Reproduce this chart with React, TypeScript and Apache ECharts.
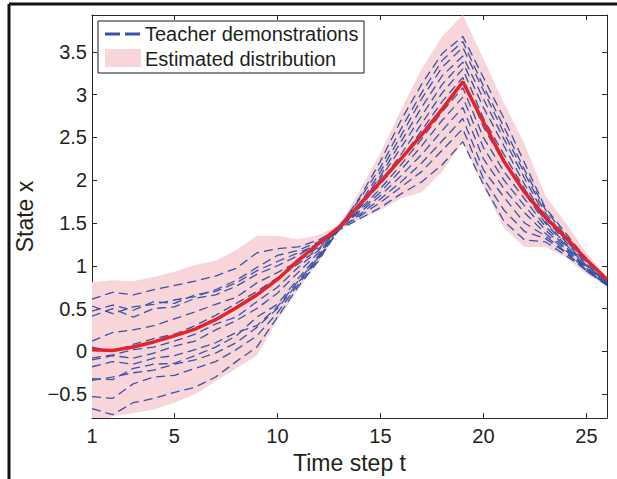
import React, { useEffect, useRef } from "react";
import * as echarts from "echarts";

const timeSteps = [1, 2, 3, 4, 5, 6, 7, 8, 9, 10, 11, 12, 13, 14, 15, 16, 17, 18, 19, 20, 21, 22, 23, 24, 25, 26];

const meanState = [0.02, 0.01, 0.05, 0.11, 0.18, 0.26, 0.37, 0.51, 0.66, 0.84, 1.06, 1.26, 1.45, 1.72, 1.98, 2.25, 2.53, 2.83, 3.15, 2.68, 2.22, 1.86, 1.57, 1.33, 1.07, 0.84];
const upperBound = [0.81, 0.83, 0.82, 0.87, 0.93, 1.01, 1.06, 1.18, 1.35, 1.35, 1.31, 1.36, 1.48, 1.88, 2.32, 2.82, 3.30, 3.68, 3.93, 3.42, 2.90, 2.42, 1.82, 1.50, 1.15, 0.87];
const lowerBound = [-0.85, -0.76, -0.72, -0.68, -0.60, -0.50, -0.35, -0.20, -0.05, 0.36, 0.72, 1.04, 1.42, 1.54, 1.65, 1.79, 1.86, 2.10, 2.44, 1.93, 1.44, 1.22, 1.22, 1.10, 0.90, 0.76];

const demo01 = [0.61, 0.69, 0.66, 0.72, 0.77, 0.82, 0.88, 0.97, 1.15, 1.20, 1.22, 1.30, 1.44, 1.80, 2.22, 2.70, 3.12, 3.48, 3.68, 3.20, 2.72, 2.20, 1.68, 1.38, 1.08, 0.85];
const demo02 = [0.53, 0.44, 0.52, 0.55, 0.60, 0.64, 0.72, 0.83, 0.98, 1.12, 1.18, 1.28, 1.46, 1.78, 2.15, 2.60, 3.02, 3.40, 3.62, 3.10, 2.62, 2.12, 1.66, 1.35, 1.06, 0.84];
const demo03 = [0.47, 0.54, 0.48, 0.58, 0.56, 0.66, 0.70, 0.80, 0.94, 1.05, 1.15, 1.25, 1.42, 1.72, 2.10, 2.52, 2.95, 3.32, 3.55, 3.05, 2.55, 2.08, 1.62, 1.32, 1.04, 0.83];
const demo04 = [0.41, 0.50, 0.40, 0.50, 0.52, 0.62, 0.66, 0.76, 0.90, 1.00, 1.12, 1.27, 1.45, 1.70, 2.05, 2.45, 2.85, 3.22, 3.45, 2.95, 2.48, 2.02, 1.58, 1.30, 1.02, 0.81];
const demo05 = [0.12, 0.22, 0.25, 0.30, 0.38, 0.46, 0.55, 0.63, 0.80, 0.92, 1.05, 1.22, 1.47, 1.72, 2.02, 2.38, 2.75, 3.12, 3.38, 2.85, 2.40, 1.95, 1.55, 1.28, 1.00, 0.82];
const demo06 = [0.05, 0.00, 0.08, 0.15, 0.20, 0.30, 0.42, 0.56, 0.70, 0.86, 1.02, 1.20, 1.43, 1.68, 1.98, 2.30, 2.66, 3.02, 3.30, 2.72, 2.30, 1.90, 1.52, 1.25, 1.00, 0.80];
const demo07 = [-0.08, -0.04, 0.02, 0.05, 0.12, 0.20, 0.32, 0.40, 0.58, 0.75, 0.98, 1.18, 1.46, 1.70, 1.95, 2.25, 2.58, 2.92, 3.20, 2.62, 2.20, 1.85, 1.50, 1.24, 0.98, 0.80];
const demo08 = [-0.10, -0.05, -0.08, -0.02, 0.06, 0.12, 0.25, 0.36, 0.50, 0.68, 0.92, 1.15, 1.44, 1.66, 1.90, 2.18, 2.48, 2.80, 3.08, 2.50, 2.10, 1.78, 1.46, 1.22, 0.97, 0.79];
const demo09 = [-0.32, -0.33, -0.20, -0.15, -0.14, -0.05, 0.05, 0.18, 0.40, 0.55, 0.85, 1.12, 1.45, 1.64, 1.86, 2.12, 2.40, 2.70, 2.97, 2.38, 2.00, 1.70, 1.42, 1.20, 0.96, 0.79];
const demo10 = [-0.34, -0.30, -0.25, -0.22, -0.15, -0.10, -0.02, 0.10, 0.28, 0.50, 0.80, 1.10, 1.46, 1.62, 1.82, 2.05, 2.30, 2.58, 2.85, 2.25, 1.90, 1.62, 1.38, 1.18, 0.94, 0.78];
const demo11 = [-0.53, -0.55, -0.38, -0.30, -0.28, -0.20, -0.12, 0.02, 0.18, 0.45, 0.78, 1.08, 1.43, 1.60, 1.78, 1.98, 2.20, 2.46, 2.72, 2.12, 1.80, 1.50, 1.35, 1.16, 0.94, 0.77];
const demo12 = [-0.67, -0.74, -0.60, -0.55, -0.48, -0.42, -0.30, -0.12, 0.05, 0.40, 0.75, 1.06, 1.44, 1.58, 1.74, 1.92, 2.10, 2.35, 2.60, 2.02, 1.65, 1.40, 1.32, 1.15, 0.95, 0.78];
const demo13 = [-0.18, -0.12, -0.15, -0.08, -0.05, 0.02, 0.10, 0.22, 0.30, 0.52, 0.82, 1.10, 1.42, 1.55, 1.68, 1.84, 1.98, 2.18, 2.45, 1.95, 1.52, 1.30, 1.28, 1.12, 0.95, 0.78];

const demonstrations = [demo01, demo02, demo03, demo04, demo05, demo06, demo07, demo08, demo09, demo10, demo11, demo12, demo13];

const xTicks = [1, 5, 10, 15, 20, 25];
const yTicks = [-0.5, 0, 0.5, 1, 1.5, 2, 2.5, 3, 3.5];

const FONT = "'Liberation Sans', Arial, Helvetica, sans-serif";
const INK = "#231f20";
const BLUE = "#3753a6";
const RED = "#e5232b";
const PINK = "#f8d5d8";

export default function App() {
  const ref = useRef<HTMLDivElement>(null);

  useEffect(() => {
    document.body.style.margin = "0";
    const chart = echarts.init(ref.current!, null, { renderer: "svg" });
    const pairs = (vals: number[]) => timeSteps.map((t, i) => [t, vals[i]]);
    const bandData = timeSteps.map((t, i) => [t, lowerBound[i], upperBound[i]]);

    const axisLineStyle = { color: "#262626", width: 1 };

    const series: any[] = [
      {
        name: "Estimated distribution",
        type: "custom",
        data: bandData,
        encode: { x: 0, y: [1, 2] },
        clip: true,
        silent: true,
        z: 1,
        renderItem: (params: any, api: any) => {
          if (params.dataIndex !== 0) return null;
          const top = bandData.map((d) => api.coord([d[0], d[2]]));
          const bottom = bandData.map((d) => api.coord([d[0], d[1]])).reverse();
          return {
            type: "polygon",
            shape: { points: top.concat(bottom) },
            style: { fill: PINK },
          };
        },
      },
    ];
    demonstrations.forEach((d, i) => {
      series.push({
        name: "demo" + (i + 1),
        type: "line",
        data: pairs(d),
        symbol: "none",
        lineStyle: { color: BLUE, width: 1.3, type: [9, 5] },
        z: 2,
      });
    });
    series.push({
      name: "mean",
      type: "line",
      data: pairs(meanState),
      symbol: "none",
      lineStyle: { color: RED, width: 3.5 },
      z: 3,
    });

    const option: any = {
      animation: false,
      backgroundColor: "#ffffff",
      grid: { left: 92, top: 15, width: 515, height: 404, containLabel: false },
      xAxis: [
        {
          type: "value",
          min: 1,
          max: 26,
          position: "bottom",
          axisLine: { show: true, onZero: false, lineStyle: axisLineStyle },
          axisTick: { show: true, inside: true, length: 5, customValues: xTicks, lineStyle: axisLineStyle },
          axisLabel: { customValues: xTicks, fontSize: 20, color: INK, margin: 8, fontFamily: FONT },
          splitLine: { show: false },
          name: "Time step t",
          nameLocation: "middle",
          nameGap: 18,
          nameTextStyle: { fontSize: 23, color: INK, fontFamily: FONT },
        },
        {
          type: "value",
          min: 1,
          max: 26,
          position: "top",
          axisLine: { show: true, onZero: false, lineStyle: axisLineStyle },
          axisTick: { show: true, inside: true, length: 5, customValues: xTicks, lineStyle: axisLineStyle },
          axisLabel: { show: false },
          splitLine: { show: false },
        },
      ],
      yAxis: [
        {
          type: "value",
          min: -0.78,
          max: 3.93,
          position: "left",
          axisLine: { show: true, onZero: false, lineStyle: axisLineStyle },
          axisTick: { show: true, inside: true, length: 5, customValues: yTicks, lineStyle: axisLineStyle },
          axisLabel: {
            customValues: yTicks,
            fontSize: 20,
            color: INK,
            margin: 5,
            fontFamily: FONT,
            formatter: (v: number) => (v < 0 ? "\u2212" + String(Math.abs(v)) : String(v)),
          },
          splitLine: { show: false },
          name: "State x",
          nameLocation: "middle",
          nameRotate: 90,
          nameGap: 39,
          nameTextStyle: { fontSize: 23, color: INK, fontFamily: FONT },
        },
        {
          type: "value",
          min: -0.78,
          max: 3.93,
          position: "right",
          axisLine: { show: true, onZero: false, lineStyle: axisLineStyle },
          axisTick: { show: true, inside: true, length: 5, customValues: yTicks, lineStyle: axisLineStyle },
          axisLabel: { show: false },
          splitLine: { show: false },
        },
      ],
      series,
      graphic: [
        { type: "line", shape: { x1: 9, y1: 4, x2: 617, y2: 4 }, style: { stroke: "#111", lineWidth: 3 }, z: 50 },
        { type: "line", shape: { x1: 9, y1: 4, x2: 9, y2: 479 }, style: { stroke: "#111", lineWidth: 3 }, z: 50 },
        {
          type: "rect",
          shape: { x: 98, y: 21, width: 266, height: 52 },
          style: { fill: "#ffffff", stroke: "#1a1a1a", lineWidth: 1 },
          z: 100,
        },
        { type: "line", shape: { x1: 105, y1: 34, x2: 120, y2: 34 }, style: { stroke: BLUE, lineWidth: 3 }, z: 101 },
        { type: "line", shape: { x1: 125, y1: 34, x2: 140, y2: 34 }, style: { stroke: BLUE, lineWidth: 3 }, z: 101 },
        { type: "rect", shape: { x: 105, y: 49, width: 36, height: 18 }, style: { fill: PINK }, z: 101 },
        {
          type: "text",
          x: 145,
          y: 34,
          style: { text: "Teacher demonstrations", fontSize: 20, fontFamily: FONT, fill: INK, verticalAlign: "middle", align: "left" },
          z: 101,
        },
        {
          type: "text",
          x: 145,
          y: 59,
          style: { text: "Estimated distribution", fontSize: 20, fontFamily: FONT, fill: INK, verticalAlign: "middle", align: "left" },
          z: 101,
        },
      ],
    };

    chart.setOption(option);
    return () => chart.dispose();
  }, []);

  return <div ref={ref} style={{ width: 617, height: 479 }} />;
}
